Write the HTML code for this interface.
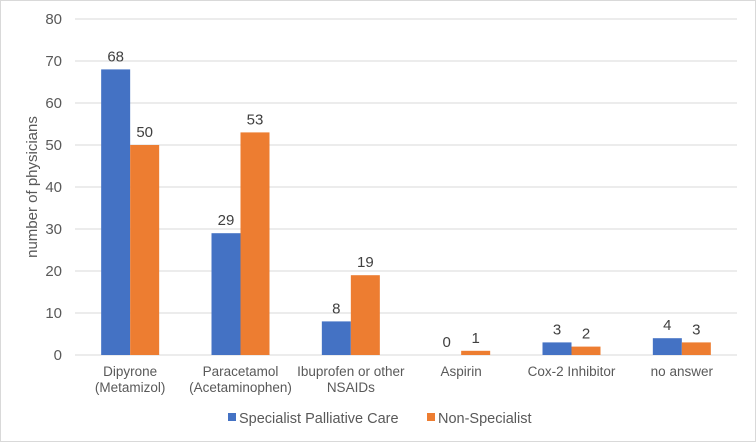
<!DOCTYPE html>
<html><head><meta charset="utf-8"><style>
body{margin:0;background:#fff}
svg{display:block;font-family:"Liberation Sans",Arial,sans-serif}
</style></head><body>
<svg id="c" width="756" height="442">
<rect x="0.5" y="0.5" width="755" height="441" fill="#fff" stroke="#d9d9d9"/>
<text transform="translate(37,187) rotate(-90)" text-anchor="middle" font-size="15" fill="#595959">number of physicians</text>
<g>
<rect x="228" y="413" width="8" height="8" fill="#4472c4"/>
<text x="239" y="423" font-size="14.5" fill="#595959">Specialist Palliative Care</text>
<rect x="427" y="413" width="8" height="8" fill="#ed7d31"/>
<text x="438" y="423" font-size="14.5" fill="#595959">Non-Specialist</text>
</g>
</svg>
<script>
const categories=[["Dipyrone","(Metamizol)"],["Paracetamol","(Acetaminophen)"],["Ibuprofen or other","NSAIDs"],["Aspirin"],["Cox-2 Inhibitor"],["no answer"]];
const specialist=[68,29,8,0,3,4];
const nonSpecialist=[50,53,19,1,2,3];
const yTicks=[0,10,20,30,40,50,60,70,80];
const svg=document.getElementById('c');
const NS='http://www.w3.org/2000/svg';
const L=75,R=737,T=19,B=355,yMax=80;
const y=v=>B-(v/yMax)*(B-T);
const cw=(R-L)/categories.length;
const xc=i=>L+cw*(i+0.5);
const bw=29;
function mk(tag,attrs,txt){const e=document.createElementNS(NS,tag);for(const k in attrs)e.setAttribute(k,attrs[k]);if(txt!==undefined)e.textContent=txt;svg.appendChild(e);return e;}
yTicks.forEach(t=>{
  const g=mk('line',{x1:L,x2:R,y1:y(t),y2:y(t),stroke:'#d9d9d9','stroke-width':1});
  
  
  const lb=mk('text',{x:62,y:y(t)+5,'text-anchor':'end','font-size':15,fill:'#595959'},t);
  
  
});
categories.forEach((c,i)=>{
  const series=[[specialist[i],'#4472c4','specialist',-bw],[nonSpecialist[i],'#ed7d31','non-specialist',0]];
  series.forEach(([v,col,nm,off])=>{
    const x=xc(i)+off;
    const r=mk('rect',{x:x,y:y(v),width:bw,height:B-y(v),fill:col});
    
    
    const t=mk('text',{x:x+bw/2,y:y(v)-8,'text-anchor':'middle','font-size':15,fill:'#404040'},v);
    
    
  });
  c.forEach((line,j)=>{
    const t=mk('text',{x:xc(i),y:376+j*16,'text-anchor':'middle','font-size':13.5,fill:'#595959'},line);
    
    
  });
});
</script>
</body></html>
